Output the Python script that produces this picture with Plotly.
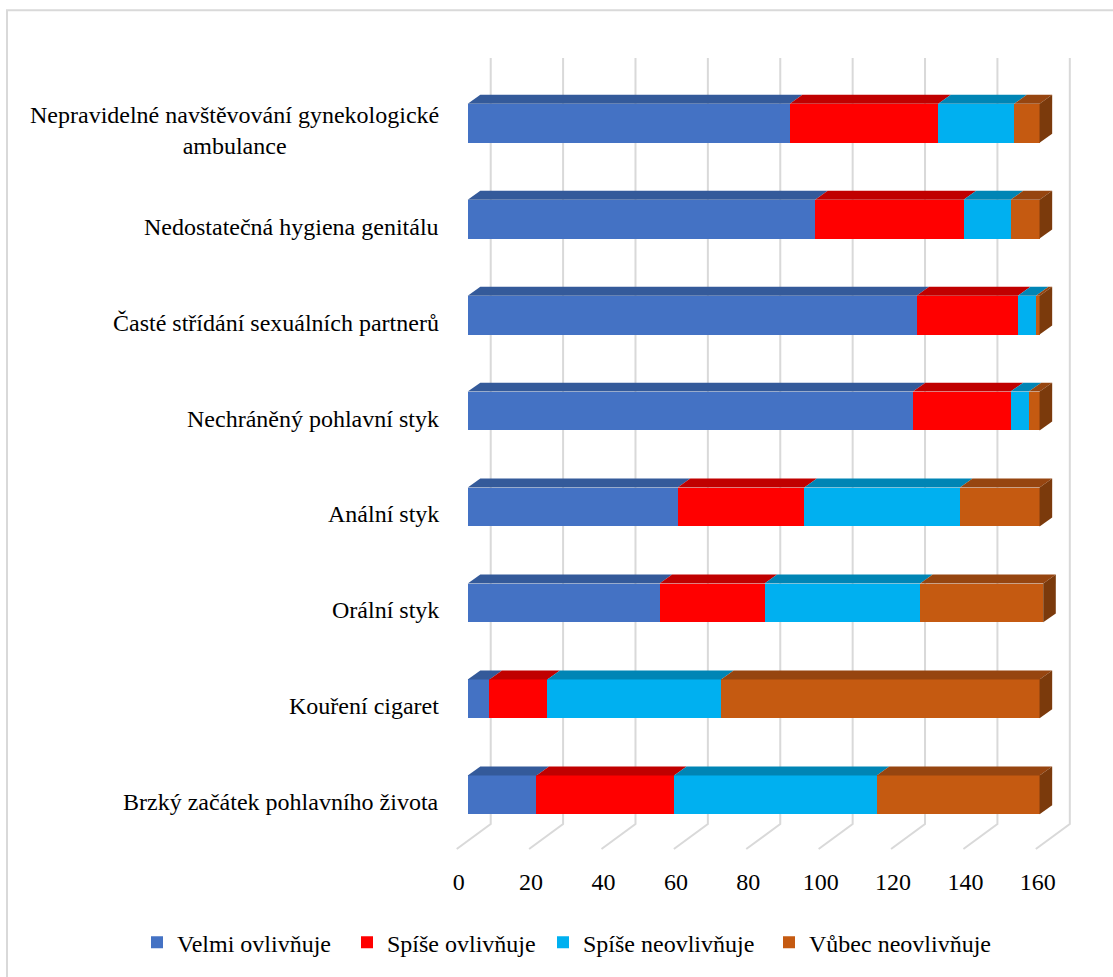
import plotly.graph_objects as go

# ---------------- data (top to bottom as shown) ----------------
categories = [
    "Nepravidelné navštěvování gynekologické<br>ambulance",
    "Nedostatečná hygiena genitálu",
    "Časté střídání sexuálních partnerů",
    "Nechráněný pohlavní styk",
    "Anální styk",
    "Orální styk",
    "Kouření cigaret",
    "Brzký začátek pohlavního života",
]
series_names = ["Velmi ovlivňuje", "Spíše ovlivňuje", "Spíše neovlivňuje", "Vůbec neovlivňuje"]
velmi = [89, 96, 124, 123, 58, 53, 6, 19]
spise = [41, 41, 28, 27, 35, 29, 16, 38]
spise_neo = [21, 13, 5, 5, 43, 43, 48, 56]
vubec = [7, 8, 1, 3, 22, 34, 88, 45]
x_ticks = [0, 20, 40, 60, 80, 100, 120, 140, 160]

# ---------------- styles ----------------
front_colors = ["#4472C4", "#FF0000", "#00B0F0", "#C55A11"]
top_colors = ["#345A9A", "#C00000", "#0085B5", "#964510"]
side_color = "#7B3A0C"
grid_color = "#D9D9D9"
FONT = "Liberation Serif, Times New Roman, serif"

W_FIG, H_FIG = 1113, 977
L, T = 446, 50
PLOT_W, PLOT_H = 637, 810
B = H_FIG - T - PLOT_H
R = W_FIG - L - PLOT_W
X_MIN, X_MAX = -6, 170
Y_MIN, Y_MAX = -0.648, 7.763
ppu_x = PLOT_W / (X_MAX - X_MIN)
ppu_y = PLOT_H / (Y_MAX - Y_MIN)

bar_w = 0.405
dx = 12.6 / ppu_x       # depth offset in data units (x)
dy = 9.0 / ppu_y        # depth offset in data units (y)
grid_back = 23.0 / ppu_x
grid_floor = -11.0 / ppu_x
grid_top = 7.680
grid_bend = -0.305
grid_end = -0.565

legend_px = [137, 347, 543, 769]   # left edge of each legend entry (pixels)

n = len(categories)
ypos = [n - 1 - i for i in range(n)]
all_series = [velmi, spise, spise_neo, vubec]
legend_ids = ["legend", "legend2", "legend3", "legend4"]

fig = go.Figure()
for name, vals, col, lg in zip(series_names, all_series, front_colors, legend_ids):
    fig.add_trace(go.Bar(
        y=ypos, x=vals, name=name, orientation="h", width=bar_w,
        marker=dict(color=col, line=dict(width=0)),
        hoverinfo="x+name", legend=lg,
    ))

shapes = []
# back-wall gridlines with floor diagonals
for v in x_ticks:
    shapes.append(dict(
        type="path", xref="x", yref="y", layer="below",
        path=f"M{v + grid_back},{grid_top} L{v + grid_back},{grid_bend} L{v + grid_floor},{grid_end}",
        line=dict(color=grid_color, width=2),
    ))

# 3D top faces and end side faces, computed from the data
for i, y in enumerate(ypos):
    start = 0.0
    yt = y + bar_w / 2
    yb = y - bar_w / 2
    for s, vals in enumerate(all_series):
        x0 = start
        x1 = start + vals[i]
        if vals[i] > 0:
            shapes.append(dict(
                type="path", xref="x", yref="y", layer="above",
                path=f"M{x0},{yt} L{x1},{yt} L{x1 + dx},{yt + dy} L{x0 + dx},{yt + dy} Z",
                fillcolor=top_colors[s], line=dict(width=0),
            ))
        start = x1
    shapes.append(dict(
        type="path", xref="x", yref="y", layer="above",
        path=f"M{start},{yt} L{start + dx},{yt + dy} L{start + dx},{yb + dy} L{start},{yb} Z",
        fillcolor=side_color, line=dict(width=0),
    ))

# outer chart border
def px_to_paper_x(px):
    return (px - L) / PLOT_W

def px_to_paper_y(py):
    return (T + PLOT_H - py) / PLOT_H

shapes.append(dict(
    type="rect", xref="paper", yref="paper", layer="below",
    x0=px_to_paper_x(7), x1=px_to_paper_x(1130),
    y0=px_to_paper_y(1000), y1=px_to_paper_y(10),
    line=dict(color=grid_color, width=2), fillcolor="rgba(0,0,0,0)",
))

annotations = []
for cat, y in zip(categories, ypos):
    annotations.append(dict(
        text=cat, x=px_to_paper_x(441), xref="paper", y=y, yref="y",
        xanchor="right", yanchor="middle", align="center", yshift=-7.5,
        showarrow=False, font=dict(family=FONT, size=24, color="#000000"),
    ))

def legend_cfg(px):
    return dict(
        orientation="h", xref="paper", yref="paper",
        x=px_to_paper_x(px), xanchor="left", y=px_to_paper_y(946), yanchor="middle",
        font=dict(family=FONT, size=24, color="#000000"),
        itemwidth=30, bgcolor="rgba(0,0,0,0)",
    )

fig.update_layout(
    width=W_FIG, height=H_FIG,
    margin=dict(l=L, r=R, t=T, b=B, pad=0),
    paper_bgcolor="white", plot_bgcolor="white",
    barmode="stack", bargap=0,
    font=dict(family=FONT, size=24, color="#000000"),
    xaxis=dict(
        range=[X_MIN, X_MAX], tickvals=x_ticks, ticktext=[str(v) for v in x_ticks],
        showgrid=False, zeroline=False, showline=False, ticks="",
        ticklabelshift=-9, ticklabelstandoff=8,
        tickfont=dict(family=FONT, size=24, color="#000000"),
    ),
    yaxis=dict(
        range=[Y_MIN, Y_MAX], showgrid=False, zeroline=False, showline=False,
        showticklabels=False, ticks="",
    ),
    legend=legend_cfg(legend_px[0]),
    legend2=legend_cfg(legend_px[1]),
    legend3=legend_cfg(legend_px[2]),
    legend4=legend_cfg(legend_px[3]),
    shapes=shapes,
    annotations=annotations,
    showlegend=True,
)

fig.write_html("out.html")
